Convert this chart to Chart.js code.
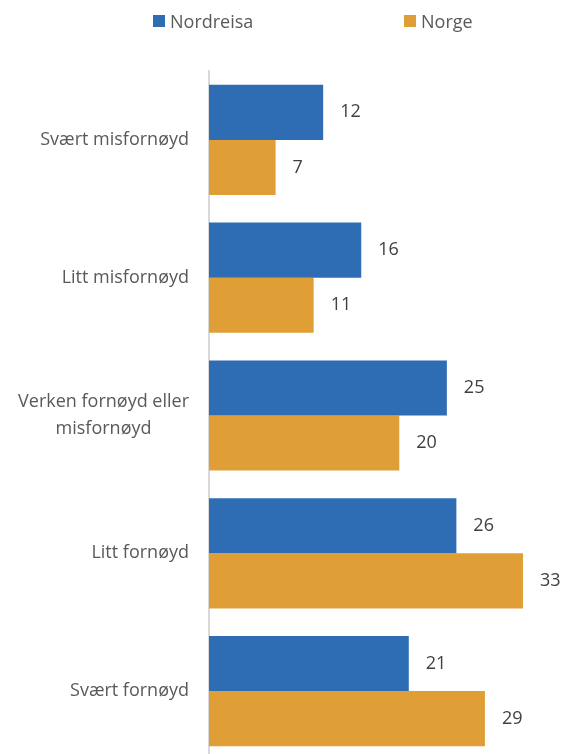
<!DOCTYPE html>
<html>
<head>
<meta charset="utf-8">
<script src="https://cdn.jsdelivr.net/npm/chart.js@4/dist/chart.umd.min.js"></script>
<style>
  html, body { margin: 0; padding: 0; background: #fff; overflow: hidden; }
  #wrap { position: relative; width: 563px; height: 754px; overflow: hidden; }
  #chart { position: absolute; left: 0; top: 0; }
  .legend { position: absolute; top: 9px; font-family: "Open Sans", sans-serif; font-size: 18px; color: #595959; display: flex; align-items: center; }
  .legend span.box { display: inline-block; width: 12px; height: 12px; margin-right: 5px; }
</style>
</head>
<body>
<div id="wrap">
  <canvas id="chart" width="563" height="762"></canvas>
  <div class="legend" style="left:153px"><span class="box" style="background:#2E6DB4"></span>Nordreisa</div>
  <div class="legend" style="left:404px"><span class="box" style="background:#E09F36"></span>Norge</div>
</div>
<script>
// Categories and values (percent)
const categories = [
    "Svært misfornøyd",
    "Litt misfornøyd",
    ["Verken fornøyd eller", "misfornøyd"],
    "Litt fornøyd",
    "Svært fornøyd"
];
const nordreisa = [12, 16, 25, 26, 21];
const norge = [7, 11, 20, 33, 29];

const font = '18px "Open Sans", sans-serif';

// Draw the value next to each bar
const valueLabels = {
    id: 'valueLabels',
    afterDatasetsDraw(chart) {
        const ctx = chart.ctx;
        ctx.save();
        ctx.font = font;
        ctx.fillStyle = '#404040';
        ctx.textAlign = 'left';
        ctx.textBaseline = 'middle';
        chart.data.datasets.forEach((ds, i) => {
            chart.getDatasetMeta(i).data.forEach((bar, j) => {
                ctx.fillText(ds.data[j], bar.x + 17, bar.y);
            });
        });
        ctx.restore();
    }
};

// Category labels: single lines right aligned, wrapped labels centred as a block
const categoryLabels = {
    id: 'categoryLabels',
    afterDraw(chart) {
        const ctx = chart.ctx;
        const scale = chart.scales.y;
        const right = scale.right - 20;
        const lineHeight = 27;
        ctx.save();
        ctx.font = font;
        ctx.fillStyle = '#595959';
        ctx.textBaseline = 'middle';
        categories.forEach((label, i) => {
            const y = scale.getPixelForTick(i);
            const lines = Array.isArray(label) ? label : [label];
            const widest = Math.max(...lines.map(l => ctx.measureText(l).width));
            const top = y - (lines.length - 1) * lineHeight / 2;
            lines.forEach((line, k) => {
                if (lines.length > 1) {
                    ctx.textAlign = 'center';
                    ctx.fillText(line, right - widest / 2, top + k * lineHeight);
                } else {
                    ctx.textAlign = 'right';
                    ctx.fillText(line, right, top);
                }
            });
        });
        ctx.restore();
    }
};

const ctx = document.getElementById('chart').getContext('2d');
new Chart(ctx, {
    type: 'bar',
    data: {
        labels: categories,
        datasets: [
            { label: 'Nordreisa', data: nordreisa, backgroundColor: '#2E6DB4' },
            { label: 'Norge', data: norge, backgroundColor: '#E09F36' }
        ]
    },
    options: {
        indexAxis: 'y',
        responsive: false,
        animation: false,
        categoryPercentage: 0.8,
        barPercentage: 1.0,
        layout: { padding: { top: 71, bottom: 2, left: 0, right: 21 } },
        plugins: {
            legend: { display: false },
            tooltip: { enabled: false }
        },
        scales: {
            x: {
                display: false,
                min: 0,
                max: 35
            },
            y: {
                afterFit(scale) { scale.width = 209; },
                grid: { display: true, drawOnChartArea: false, drawTicks: false },
                border: { display: true, color: '#D9D9D9', width: 2 },
                ticks: { display: false }
            }
        }
    },
    plugins: [valueLabels, categoryLabels]
});
</script>
</body>
</html>
